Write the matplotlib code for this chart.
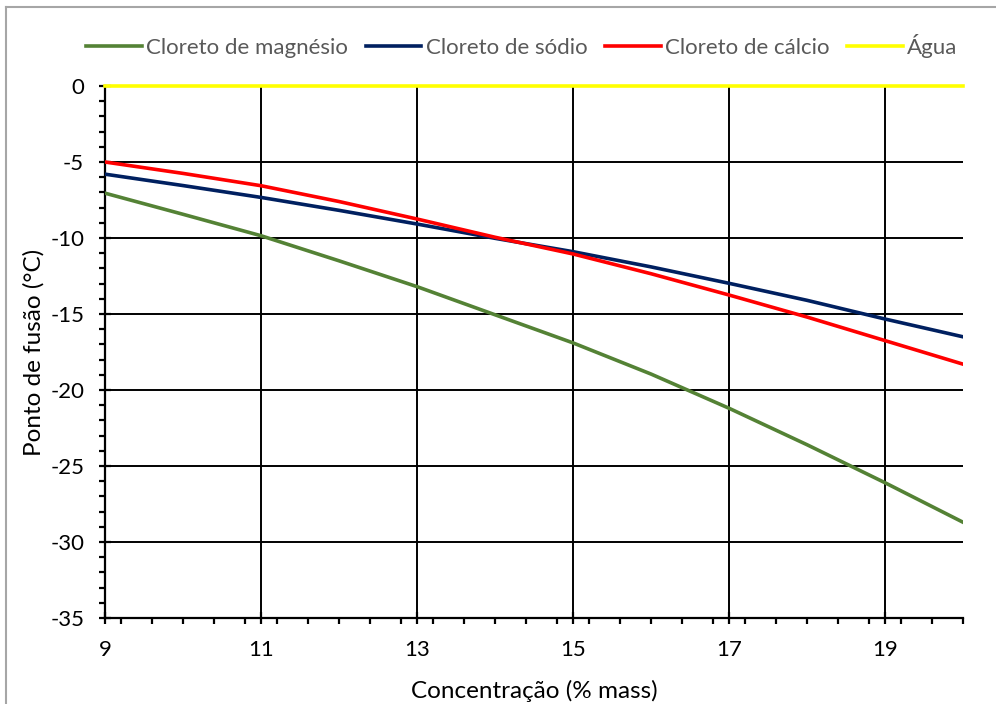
import matplotlib.pyplot as plt
from matplotlib.lines import Line2D
from matplotlib.ticker import MultipleLocator

plt.rcParams['font.family'] = ['Lato', 'DejaVu Sans']
plt.rcParams['axes.unicode_minus'] = False

# Dados
concentracao = [9, 10, 11, 12, 13, 14, 15, 16, 17, 18, 19, 20]
cloreto_magnesio = [-7.05, -8.44, -9.85, -11.5, -13.2, -15.05, -16.9, -18.95, -21.2, -23.6, -26.1, -28.7]
cloreto_sodio = [-5.8, -6.55, -7.33, -8.18, -9.08, -10.02, -10.9, -11.9, -12.98, -14.1, -15.33, -16.5]
cloreto_calcio = [-5.0, -5.75, -6.56, -7.6, -8.75, -9.95, -11.05, -12.35, -13.75, -15.2, -16.75, -18.3]
agua = [0] * len(concentracao)

fig = plt.figure(figsize=(9.96, 7.04), dpi=100)
ax = fig.add_axes([105 / 996, 1 - 618 / 704, 858 / 996, 532 / 704])

lw = 2.6
ax.plot(concentracao, cloreto_magnesio, color='#548235', lw=lw, label='Cloreto de magnésio', zorder=3)
ax.plot(concentracao, cloreto_sodio, color='#002060', lw=lw, label='Cloreto de sódio', zorder=3)
ax.plot(concentracao, cloreto_calcio, color='#FF0000', lw=lw, label='Cloreto de cálcio', zorder=3)
ax.plot(concentracao, agua, color='#FFFF00', lw=lw, label='Água', zorder=4, clip_on=False)

ax.set_xlim(9, 20)
ax.set_ylim(-35, 0)
ax.xaxis.set_major_locator(MultipleLocator(2))
ax.xaxis.set_minor_locator(MultipleLocator(0.4))
ax.yaxis.set_major_locator(MultipleLocator(5))
ax.yaxis.set_minor_locator(MultipleLocator(1))
ax.set_xticks([9, 11, 13, 15, 17, 19])

ax.grid(True, which='major', color='black', lw=1.4)
ax.tick_params(which='major', direction='inout', length=8, width=1.6, labelsize=16)
ax.tick_params(axis='x', which='major', pad=12)
ax.tick_params(axis='y', which='major', pad=11)
ax.tick_params(which='minor', direction='out', length=4, width=1.6)
for side in ['top', 'right']:
    ax.spines[side].set_visible(False)
ax.spines['left'].set_linewidth(1.6)
ax.spines['bottom'].set_linewidth(1.6)

ax.set_xlabel('Concentração (% mass)', fontsize=17.5, labelpad=14)
ax.set_ylabel('Ponto de fusão (°C)', fontsize=17.5, labelpad=4)

leg = fig.legend(loc='center', bbox_to_anchor=(0.524, 1 - 46 / 704), ncol=4, frameon=False,
                 fontsize=16, handlelength=2.5, handletextpad=0.2, columnspacing=0.8)
for t in leg.get_texts():
    t.set_color('#595959')

# borda da area do grafico
fig.add_artist(Line2D([6 / 996, 1], [1 - 7 / 704, 1 - 7 / 704], color='#A6A6A6', lw=1.5))
fig.add_artist(Line2D([6 / 996, 6 / 996], [0, 1 - 7 / 704], color='#A6A6A6', lw=1.5))

fig.savefig('out.png', dpi=100)
